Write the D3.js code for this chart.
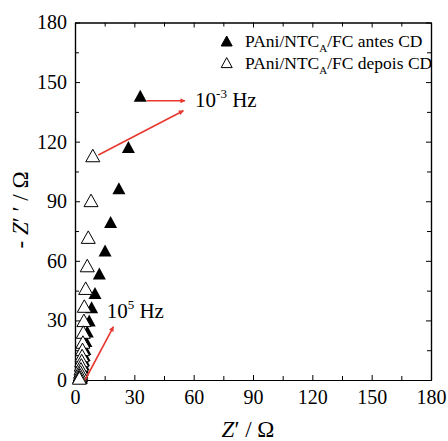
<!DOCTYPE html>
<html><head><meta charset="utf-8">
<script src="https://cdn.jsdelivr.net/npm/d3@7"></script>
<style>body{margin:0;background:#fff}svg{display:block}</style>
</head><body><svg id="c" width="448" height="441"></svg>
<script>
const xTicks=[0,30,60,90,120,150,180];
const yTicks=[0,30,60,90,120,150,180];
const minorTicks=[15,45,75,105,135,165];
const antesX=[33,27,22.2,18,15.2,12.3,10.1,8.4,7.2,6.2,5.5,5,4.6,4.3,4,3.8,3.6,3.5,3.4,3.3,3.2,3.1];
const antesY=[142.5,116.7,96,79,64.6,53,43.2,36,29.4,23.8,19,15,12,9.5,7.5,5.8,4.4,3.2,2.2,1.4,0.8,0.4];
const depoisX=[9,8.1,6.7,6.2,5.4,4.7,4.5,4.2,4,3.8,3.6,3.4,3.2,3,2.8,2.6,2.4,2.2];
const depoisY=[112.4,89.8,71.3,57,45.6,36.6,29.4,23.5,18.5,14.8,11.7,9.2,7,5,3.4,2,1,0.4];
const legendLabels=["antes CD","depois CD"];
const arrowFrom=[[36.2,140.6],[11.8,113.3],[5.1,0]];
const arrowTo=[[55.6,140.6],[54.8,135.6],[19.4,26.8]];
const annotations=[{x:60.7,y:137.6,exp:"-3"},{x:16,y:31.2,exp:"5"}];

const W=448,H=441,m={l:75,r:17,t:22.5,b:61};
const svg=d3.select("#c");
const x=d3.scaleLinear().domain([0,180]).range([m.l,W-m.r]);
const y=d3.scaleLinear().domain([0,180]).range([H-m.b,m.t]);
const font="'Liberation Serif','Times New Roman',serif";
const red="#e8382f";

function triPath(w,h){return `M0,${-h*0.6}L${w/2},${h*0.4}L${-w/2},${h*0.4}Z`;}

// axes
const axB=d3.axisBottom(x).tickValues(xTicks).tickSizeInner(-5).tickSizeOuter(0).tickPadding(10);
const axL=d3.axisLeft(y).tickValues(yTicks).tickSizeInner(-5).tickSizeOuter(0).tickPadding(8);
const axT=d3.axisTop(x).tickValues(xTicks).tickSizeInner(-5).tickSizeOuter(0).tickFormat("");
const axR=d3.axisRight(y).tickValues(yTicks).tickSizeInner(-5).tickSizeOuter(0).tickFormat("");
svg.append("g").attr("transform",`translate(0,${y(0)})`).call(axB);
svg.append("g").attr("transform",`translate(${x(0)},0)`).call(axL);
svg.append("g").attr("transform",`translate(0,${y(180)})`).call(axT);
svg.append("g").attr("transform",`translate(${x(180)},0)`).call(axR);
// minor ticks
svg.append("g").attr("transform",`translate(0,${y(0)})`).call(d3.axisBottom(x).tickValues(minorTicks).tickSizeInner(-4).tickSizeOuter(0).tickFormat(""));
svg.append("g").attr("transform",`translate(0,${y(180)})`).call(d3.axisTop(x).tickValues(minorTicks).tickSizeInner(-4).tickSizeOuter(0).tickFormat(""));
svg.append("g").attr("transform",`translate(${x(0)},0)`).call(d3.axisLeft(y).tickValues(minorTicks).tickSizeInner(-4).tickSizeOuter(0).tickFormat(""));
svg.append("g").attr("transform",`translate(${x(180)},0)`).call(d3.axisRight(y).tickValues(minorTicks).tickSizeInner(-4).tickSizeOuter(0).tickFormat(""));
svg.selectAll(".domain").attr("stroke","#000").attr("stroke-width",1.2);
svg.selectAll(".tick line").attr("stroke","#000").attr("stroke-width",1);
svg.selectAll(".tick text").attr("font-family",font).attr("font-size",20).attr("fill","#000");

// markers
svg.append("g").selectAll("path").data(antesX.map((d,i)=>[d,antesY[i]])).join("path")
  .attr("d",triPath(13,12)).attr("transform",d=>`translate(${x(d[0])},${y(d[1])})`).attr("fill","#000");
svg.append("g").selectAll("path").data(depoisX.map((d,i)=>[d,depoisY[i]])).join("path")
  .attr("d",triPath(14,12.5)).attr("transform",d=>`translate(${x(d[0])},${y(d[1])})`).attr("fill","#fff").attr("stroke","#000").attr("stroke-width",1);

// arrows
const defs=svg.append("defs");
defs.append("marker").attr("id","ah").attr("viewBox","0 0 10 10").attr("refX",9).attr("refY",5)
  .attr("markerWidth",6).attr("markerHeight",5).attr("markerUnits","userSpaceOnUse").attr("orient","auto")
  .append("path").attr("d","M0,0L10,5L0,10Z").attr("fill",red);
svg.append("g").selectAll("line").data(arrowFrom.map((f,i)=>[f,arrowTo[i]])).join("line")
  .attr("x1",d=>x(d[0][0])).attr("y1",d=>y(d[0][1])).attr("x2",d=>x(d[1][0])).attr("y2",d=>y(d[1][1]))
  .attr("stroke",red).attr("stroke-width",1.6).attr("marker-end","url(#ah)");

// annotations
annotations.forEach(a=>{
  const t=svg.append("text").attr("x",x(a.x)).attr("y",y(a.y)).attr("font-family",font).attr("font-size",21).attr("fill","#000");
  t.append("tspan").text("10");
  t.append("tspan").attr("dy",-9).attr("font-size",13).text(a.exp);
  t.append("tspan").attr("dy",9).text(" Hz");
});

// legend
const lg=svg.append("g");
legendLabels.forEach((l,i)=>{
  const ly=42+i*21.6;
  lg.append("path").attr("d",triPath(11,10)).attr("transform",`translate(226.7,${ly})`)
    .attr("fill",i===0?"#000":"#fff").attr("stroke","#000").attr("stroke-width",1);
  const t=lg.append("text").attr("x",245).attr("y",ly+5).attr("font-family",font).attr("font-size",17.5).attr("fill","#000");
  t.append("tspan").text("PAni/NTC");
  t.append("tspan").attr("dy",5).attr("font-size",11).text("A");
  t.append("tspan").attr("dy",-5).text("/FC "+l);
});

// axis titles
const xt=svg.append("text").attr("x",248).attr("y",437).attr("text-anchor","middle").attr("font-family",font).attr("font-size",23).attr("fill","#000");
xt.append("tspan").attr("font-style","italic").text("Z");
xt.append("tspan").text("\u2032 / \u03A9");
const yt=svg.append("text").attr("transform","translate(28,210) rotate(-90)").attr("text-anchor","middle").attr("font-family",font).attr("font-size",23).attr("fill","#000");
yt.append("tspan").text("- ");
yt.append("tspan").attr("font-style","italic").text("Z");
yt.append("tspan").text("\u2032 \u2032 / \u03A9");
</script></body></html>
